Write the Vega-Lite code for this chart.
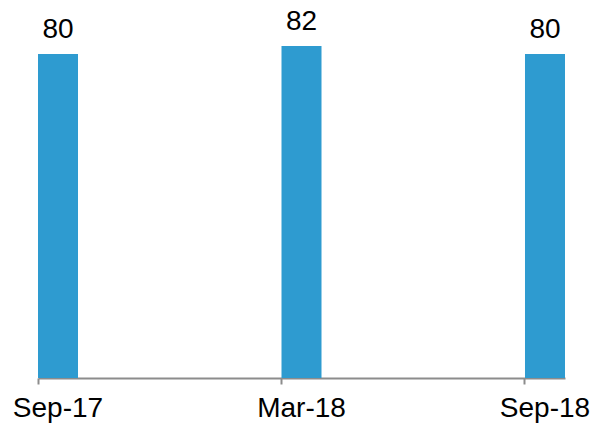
{
  "$schema": "https://vega.github.io/schema/vega-lite/v6.json",
  "width": 527,
  "height": 332,
  "autosize": {"type": "none"},
  "padding": {"left": 38, "top": 46, "right": 30, "bottom": 50},
  "background": "white",
  "config": {"view": {"stroke": null}, "font": "Liberation Sans"},
  "data": {"values": [
    {"period": "Sep-17", "value": 80},
    {"period": "Mar-18", "value": 82},
    {"period": "Sep-18", "value": 80}
  ]},
  "encoding": {
    "x": {
      "field": "period", "type": "nominal", "sort": null,
      "scale": {"paddingInner": 0.8357, "paddingOuter": 0},
      "axis": {
        "title": null, "labelAngle": 0, "bandPosition": 0, "labelOffset": 0,
        "domainColor": "#8c8c8c", "domainWidth": 2, "tickColor": "#8c8c8c", "tickWidth": 2, "tickSize": 6,
        "labelFontSize": 28, "labelColor": "#000000", "labelPadding": 10, "labelFont": "Liberation Sans"
      }
    },
    "y": {"field": "value", "type": "quantitative", "scale": {"domain": [0, 82], "nice": false}, "axis": null}
  },
  "layer": [
    {"mark": {"type": "bar", "color": "#2e9bd0"}},
    {"mark": {"type": "text", "fontSize": 28, "dy": -16, "baseline": "alphabetic", "color": "#000000", "font": "Liberation Sans"},
     "encoding": {"text": {"field": "value", "type": "quantitative"}}}
  ]
}
